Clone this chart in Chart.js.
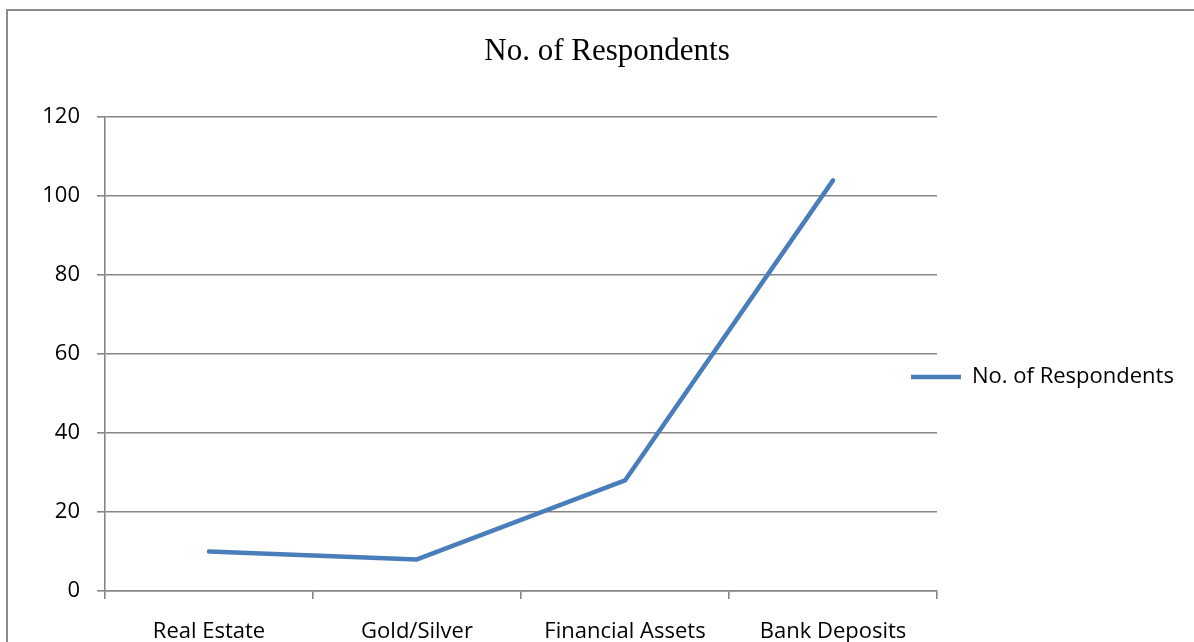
<!DOCTYPE html>
<html>
<head>
<meta charset="utf-8">
<title>No. of Respondents</title>
<script src="https://cdn.jsdelivr.net/npm/chart.js@4"></script>
<style>
    html, body { margin: 0; padding: 0; background: #fff; overflow: hidden; }
    #frame {
        position: absolute;
        left: 6px;
        top: 9px;
        width: 1188px;
        height: 740px;
        border-left: 2px solid #8c8c8c;
        border-top: 2px solid #8c8c8c;
    }
    #respChart { display: block; }
</style>
</head>
<body>
<div id="frame">
    <canvas id="respChart" width="1186" height="732"></canvas>
</div>
<script>
const categories = ['Real Estate', 'Gold/Silver', 'Financial Assets', 'Bank Deposits'];
const respondents = [10, 8, 28, 104];
const yTickValues = [0, 20, 40, 60, 80, 100, 120];
const seriesName = 'No. of Respondents';

const gridGrey = '#868686';
const lineBlue = '#4a7ebb';

// the legend sits a little over the right end of the plot, so pull it left after layout
const legendNudge = {
    id: 'legendNudge',
    afterLayout(chart) {
        const lg = chart.legend;
        if (!lg) return;
        lg.left -= 36;
        lg.width += 36;
    }
};

const ctx = document.getElementById('respChart').getContext('2d');
new Chart(ctx, {
    type: 'line',
    data: {
        labels: categories,
        datasets: [{
            label: seriesName,
            data: respondents,
            borderColor: lineBlue,
            backgroundColor: lineBlue,
            borderWidth: 4.5,
            borderCapStyle: 'round',
            borderJoinStyle: 'round',
            pointRadius: 0,
            pointHoverRadius: 0,
            tension: 0,
            fill: false
        }]
    },
    options: {
        responsive: false,
        animation: false,
        events: [],
        layout: {
            padding: { left: 12, right: 0, top: 0, bottom: 0 }
        },
        plugins: {
            title: {
                display: true,
                text: seriesName,
                color: '#000',
                font: { family: '"Liberation Serif", "Times New Roman", serif', size: 31, weight: 'normal' },
                padding: { top: 22, bottom: 47 }
            },
            legend: {
                display: true,
                position: 'right',
                maxWidth: 257,
                labels: {
                    usePointStyle: true,
                    pointStyle: 'line',
                    pointStyleWidth: 50,
                    color: '#000',
                    padding: 10,
                    font: { family: '"Open Sans", sans-serif', size: 22 }
                }
            },
            tooltip: { enabled: false }
        },
        scales: {
            x: {
                offset: true,
                grid: {
                    offset: true,
                    drawOnChartArea: false,
                    drawTicks: true,
                    tickLength: 8,
                    color: gridGrey,
                    lineWidth: 1.6
                },
                border: { display: true, color: gridGrey, width: 1.6 },
                ticks: {
                    color: '#000',
                    padding: 20,
                    maxRotation: 0,
                    autoSkip: false,
                    font: { family: '"Open Sans", sans-serif', size: 22 }
                },
                afterFit(scale) {
                    scale.height = 152;
                }
            },
            y: {
                min: 0,
                max: 120,
                afterBuildTicks(scale) {
                    scale.ticks = yTickValues.map(v => ({ value: v }));
                },
                grid: {
                    drawTicks: true,
                    tickLength: 8,
                    color: gridGrey,
                    lineWidth: 1.6
                },
                border: { display: true, color: gridGrey, width: 1.6 },
                ticks: {
                    color: '#000',
                    padding: 17,
                    font: { family: '"Open Sans", sans-serif', size: 22 }
                },
                afterFit(scale) {
                    scale.width = 85;
                }
            }
        }
    },
    plugins: [legendNudge]
});
</script>
</body>
</html>
